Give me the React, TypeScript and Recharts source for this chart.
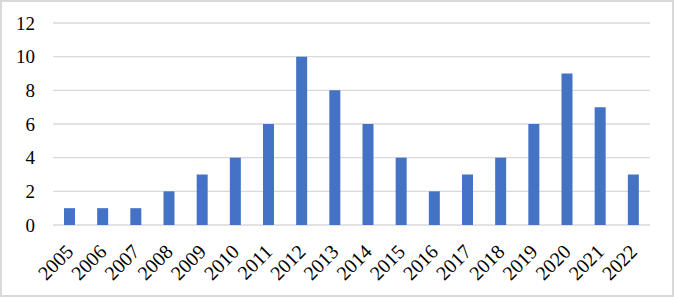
import { BarChart, Bar, XAxis, YAxis, CartesianGrid } from "recharts";

const years = [
  "2005", "2006", "2007", "2008", "2009", "2010", "2011", "2012", "2013",
  "2014", "2015", "2016", "2017", "2018", "2019", "2020", "2021", "2022",
];
const counts = [1, 1, 1, 2, 3, 4, 6, 10, 8, 6, 4, 2, 3, 4, 6, 9, 7, 3];
const yTicks = [0, 2, 4, 6, 8, 10, 12];

const data = years.map((year, i) => ({ year, count: counts[i] }));

const font = "'Liberation Serif', 'Times New Roman', serif";

const XTick = (props: any) => {
  const { x, y, payload } = props;
  const ax = x + 5;
  const ay = y + 20;
  return (
    <text
      x={ax}
      y={ay}
      transform={`rotate(-45, ${ax}, ${ay})`}
      textAnchor="end"
      fontFamily={font}
      fontSize={20}
      fill="#000"
    >
      {payload.value}
    </text>
  );
};

export default function App() {
  return (
    <div
      style={{
        position: "absolute",
        left: 0,
        top: 0,
        width: 674,
        height: 297,
        border: "2px solid #d9d9d9",
        boxSizing: "border-box",
        background: "#fff",
      }}
    >
      <BarChart
        width={670}
        height={293}
        data={data}
        margin={{ top: 21, right: 22, bottom: 0, left: 0 }}
      >
        <CartesianGrid vertical={false} stroke="#d9d9d9" strokeWidth={1.3} />
        <XAxis
          dataKey="year"
          axisLine={false}
          tickLine={false}
          interval={0}
          height={70}
          tick={<XTick />}
        />
        <YAxis
          domain={[0, 12]}
          ticks={yTicks}
          width={51}
          axisLine={false}
          tickLine={false}
          tickSize={0}
          tickMargin={18}
          tick={{ fontFamily: font, fontSize: 19, fill: "#000" }}
        />
        <Bar dataKey="count" fill="#4472c4" barSize={11} isAnimationActive={false} />
      </BarChart>
    </div>
  );
}
